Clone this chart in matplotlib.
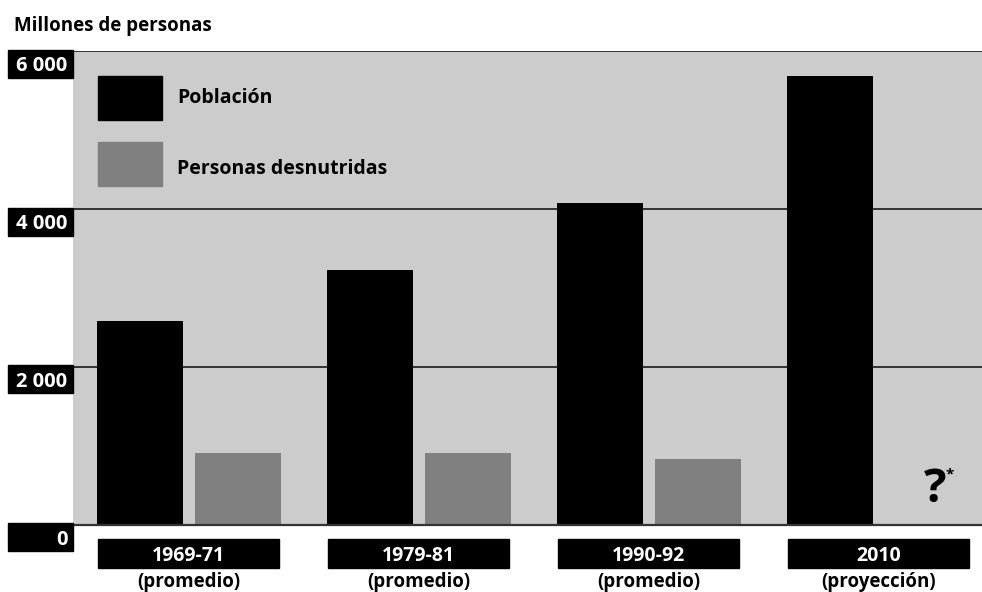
import numpy as np
import matplotlib
matplotlib.use("Agg")
from matplotlib import pyplot as plt
from matplotlib.patches import Rectangle

plt.rcParams['font.family'] = ['Open Sans', 'DejaVu Sans']

# Millones de personas
periodos = ['1969-71', '1979-81', '1990-92', '2010']
notas = ['(promedio)', '(promedio)', '(promedio)', '(proyección)']
poblacion = [2580, 3225, 4075, 5685]
desnutridas = [905, 905, 830]          # 2010 sin dato -> "?"
yticks = [0, 2000, 4000, 6000]
ylabels = ['0', '2 000', '4 000', '6 000']

gris_fondo = '#cccccc'
gris_barra = '#808080'

fig = plt.figure(figsize=(9.82, 5.92), dpi=100)
ax = fig.add_axes([73 / 982, (592 - 524.5) / 592, 909 / 982, 473.5 / 592])
ax.set_facecolor(gris_fondo)

x = np.arange(len(periodos))
w = 0.374
off = 0.213
ax.bar(x - off, poblacion, width=w, color='black', zorder=3)
ax.bar(x[:len(desnutridas)] + off, desnutridas, width=w, color=gris_barra, zorder=3)

# signo de interrogacion donde falta el dato de 2010
ax.text(x[-1] + off + 0.03, 140, '?', fontsize=34, fontweight='bold',
        ha='center', va='bottom', zorder=4)
ax.text(x[-1] + off + 0.095, 540, '*', fontsize=11, fontweight='bold',
        ha='center', va='bottom', zorder=4)

ax.set_xlim(-0.504, 3.448)
ax.set_ylim(0, 6000)

for yv in yticks[1:]:
    ax.axhline(yv, color='#333333', lw=1.4, zorder=2)
ax.axhline(0, color='#333333', lw=1.6, zorder=4, clip_on=False)

for s in ax.spines.values():
    s.set_visible(False)
ax.set_xticks([])
ax.set_yticks([])

# etiquetas del eje y en cajas negras
ytr = ax.get_yaxis_transform()
box_h = 355
for yv, lab in zip(yticks, ylabels):
    ax.add_patch(Rectangle((-0.0715, yv - box_h + 15), 0.0715, box_h,
                           transform=ytr, color='black', clip_on=False, zorder=5))
    ax.text(-0.006, yv - box_h / 2 + 15, lab, transform=ytr, color='white',
            fontsize=14.5, fontweight='bold', ha='right', va='center_baseline',
            zorder=6)

# etiquetas de periodos
xtr = ax.get_xaxis_transform()
for xi, per, nota in zip(x, periodos, notas):
    ax.add_patch(Rectangle((xi - 0.397, -0.0912), 0.79, 0.0606,
                           transform=xtr, color='black', clip_on=False, zorder=5))
    ax.text(xi - 0.002, -0.061, per, transform=xtr, color='white', fontsize=14,
            fontweight='bold', ha='center', va='center_baseline', zorder=6)
    ax.text(xi - 0.002, -0.117, nota, transform=xtr, color='black', fontsize=13.5,
            fontweight='bold', ha='center', va='center_baseline')

# leyenda
ax.add_patch(Rectangle((0.0275, 0.854), 0.0704, 0.093, transform=ax.transAxes,
                       color='black', zorder=5))
ax.add_patch(Rectangle((0.0275, 0.715), 0.0704, 0.093, transform=ax.transAxes,
                       color=gris_barra, zorder=5))
ax.text(0.1144, 0.905, 'Población', transform=ax.transAxes, fontsize=14,
        fontweight='bold', ha='left', va='center_baseline')
ax.text(0.1144, 0.757, 'Personas desnutridas', transform=ax.transAxes,
        fontsize=14, fontweight='bold', ha='left', va='center_baseline')

fig.text(14 / 982, 1 - 30.5 / 592, 'Millones de personas', fontsize=13.5,
         fontweight='bold', ha='left', va='baseline')

fig.savefig('out.png', dpi=100, facecolor='white')
